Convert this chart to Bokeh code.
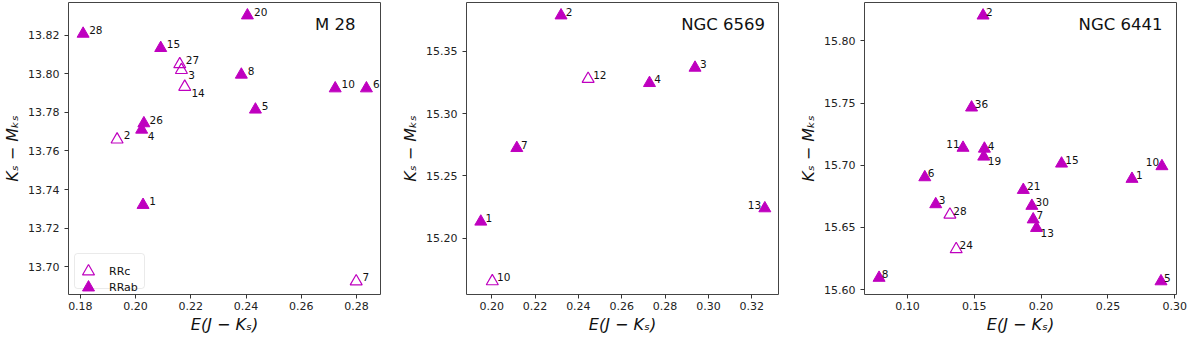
import math
from bokeh.plotting import figure
from bokeh.models import (Range1d, FixedTicker, PrintfTickFormatter, ColumnDataSource,
                          Label, Legend, LegendItem, BoxAnnotation)
from bokeh.layouts import row
from bokeh.core.properties import value
from bokeh.embed import file_html
from bokeh.resources import INLINE

# ---------------- data ----------------
# M 28
m28_id = ["28", "20", "15", "27", "3", "14", "8", "10", "6", "5", "26", "4", "2", "1", "7"]
m28_ejk = [0.1810, 0.2405, 0.2091, 0.2160, 0.2166, 0.2178, 0.2383, 0.2723, 0.2836, 0.2434,
           0.2030, 0.2022, 0.1933, 0.2027, 0.2799]
m28_mu = [13.8207, 13.8302, 13.8133, 13.8049, 13.8019, 13.7932, 13.7995, 13.7924, 13.7924,
          13.7814, 13.7743, 13.7710, 13.7659, 13.7320, 13.6924]
m28_type = ["RRab", "RRab", "RRab", "RRc", "RRc", "RRc", "RRab", "RRab", "RRab", "RRab",
            "RRab", "RRab", "RRc", "RRab", "RRc"]
m28_xticks = [0.18, 0.20, 0.22, 0.24, 0.26, 0.28]
m28_yticks = [13.70, 13.72, 13.74, 13.76, 13.78, 13.80, 13.82]

# NGC 6569
n6569_id = ["2", "12", "4", "3", "7", "1", "10", "13"]
n6569_ejk = [0.2320, 0.2445, 0.2728, 0.2938, 0.2116, 0.1950, 0.2003, 0.3260]
n6569_mu = [15.3788, 15.3278, 15.3245, 15.3368, 15.2723, 15.2132, 15.1653, 15.2239]
n6569_type = ["RRab", "RRc", "RRab", "RRab", "RRab", "RRab", "RRc", "RRab"]
n6569_xticks = [0.20, 0.22, 0.24, 0.26, 0.28, 0.30, 0.32]
n6569_yticks = [15.20, 15.25, 15.30, 15.35]

# NGC 6441
n6441_id = ["2", "36", "11", "4", "19", "6", "15", "1", "10", "21", "30", "7", "13", "3",
            "28", "24", "8", "5"]
n6441_ejk = [0.1566, 0.1480, 0.1416, 0.1576, 0.1571, 0.1130, 0.2153, 0.2680, 0.2904, 0.1867,
             0.1931, 0.1941, 0.1966, 0.1212, 0.1318, 0.1365, 0.0788, 0.2897]
n6441_mu = [15.8204, 15.7464, 15.7140, 15.7133, 15.7069, 15.6903, 15.7013, 15.6890, 15.6992,
            15.6801, 15.6673, 15.6564, 15.6495, 15.6686, 15.6602, 15.6324, 15.6094, 15.6066]
n6441_type = ["RRab"] * 14 + ["RRc", "RRc", "RRab", "RRab"]
n6441_xticks = [0.10, 0.15, 0.20, 0.25, 0.30]
n6441_yticks = [15.60, 15.65, 15.70, 15.75, 15.80]

x_title = "E(J − Kₛ)"
y_title = "Kₛ − Mₖₛ"

# ---------------- label placement (screen px, style only) ----------------
m28_ldx = [6, 6.7, 6, 6, 6.7, 6.7, 6.3, 6.3, 6.7, 6.3, 5.7, 6, 6.7, 6.3, 6.3]
m28_ldy = [-3.7, -3.3, -3.7, -4.3, 5.3, 6, -4, -4, -4, -4, -3, 6, -4.3, -3.7, -4]
m28_lal = ["left"] * 15
n6569_ldx = [4.7, 5, 4.7, 5, 4.3, 4.7, 4.7, -3.7]
n6569_ldy = [-3.3, -4, -3.7, -4, -3.3, -3.3, -4, -3.7]
n6569_lal = ["left"] * 7 + ["right"]
n6441_ldx = [3, 3.3, -3.3, 3.3, 4, 3, 3.7, 4, -2.7, 3.7, 3.7, 3.3, 4, 3, 3.3, 3.3, 2.7, 3]
n6441_ldy = [-3.3, -3.3, -3.7, -3, 4.3, -4, -4, -4, -4, -4, -4.3, -4, 5.3, -4.3, -4, -4.7, -3.7, -3.3]
n6441_lal = ["left", "left", "right", "left", "left", "left", "left", "left", "right",
             "left", "left", "left", "left", "left", "left", "left", "left", "left"]

MAG = "#bf00bf"
FONT = "DejaVu Sans"
FW, FH = 312, 292


def make_panel(title, title_dx, ids, ejk, mu, typ, ldx, ldy, lal, xlim, ylim, xticks, yticks,
               bl, br, legend=False):
    p = figure(frame_width=FW, frame_height=FH, x_range=Range1d(*xlim), y_range=Range1d(*ylim),
               output_backend="svg", toolbar_location=None, min_border_left=bl,
               min_border_right=br, min_border_top=2, min_border_bottom=43)
    p.grid.visible = False
    p.outline_line_color = "#444444"
    p.outline_line_width = 1
    p.background_fill_color = "white"
    p.border_fill_color = "white"
    for ax in (p.xaxis[0], p.yaxis[0]):
        ax.major_label_text_font = FONT
        ax.major_label_text_font_size = "11px"
        ax.major_label_text_color = "#222222"
        ax.axis_line_color = None
        ax.major_tick_out = 4
        ax.major_tick_in = 0
        ax.major_tick_line_color = "#333333"
        ax.minor_tick_line_color = None
        ax.formatter = PrintfTickFormatter(format="%.2f")
        ax.axis_label_text_font = FONT
        ax.axis_label_text_font_style = "italic"
        ax.axis_label_text_font_size = "16px"
        ax.axis_label_text_color = "#111111"
    p.xaxis[0].ticker = FixedTicker(ticks=xticks)
    p.yaxis[0].ticker = FixedTicker(ticks=yticks)
    p.xaxis[0].major_label_standoff = 3
    p.yaxis[0].major_label_standoff = 5
    p.xaxis[0].axis_label = x_title
    p.yaxis[0].axis_label = y_title
    p.xaxis[0].axis_label_standoff = 2
    p.yaxis[0].axis_label_standoff = 3

    def sub(kind):
        idx = [i for i, t in enumerate(typ) if t == kind]
        return ColumnDataSource(dict(x=[ejk[i] for i in idx], y=[mu[i] for i in idx]))

    r_c = p.scatter("x", "y", source=sub("RRc"), marker="triangle", size=12,
                    fill_color=None, line_color=MAG, line_width=1.2)
    r_ab = p.scatter("x", "y", source=sub("RRab"), marker="triangle", size=12,
                     fill_color=MAG, line_color=MAG, line_width=1)

    for al in ("left", "right"):
        idx = [i for i, a in enumerate(lal) if a == al]
        if not idx:
            continue
        src = ColumnDataSource(dict(x=[ejk[i] for i in idx], y=[mu[i] for i in idx],
                                    t=[ids[i] for i in idx], dx=[ldx[i] for i in idx],
                                    dy=[ldy[i] for i in idx]))
        p.text("x", "y", text="t", source=src, x_offset="dx", y_offset="dy",
               text_font=value(FONT), text_font_size="10.5px", text_color="#111111",
               text_align=al, text_baseline="middle")

    p.add_layout(Label(x=FW - title_dx, y=FH - 22, x_units="screen", y_units="screen",
                       text=title, text_font=FONT, text_font_size="16.5px",
                       text_color="#111111", text_align="right", text_baseline="middle"))

    if legend:
        box = BoxAnnotation(left=6, right=76, bottom=6, top=41, left_units="screen",
                            right_units="screen", bottom_units="screen", top_units="screen",
                            fill_color="white", fill_alpha=0.8, line_color="#bbbbbb",
                            line_width=1, border_radius=3)
        p.add_layout(box)
        common = dict(margin=0, padding=0, glyph_width=30, glyph_height=30, label_height=30,
                      label_standoff=6, label_text_font=FONT, label_text_font_size="11px",
                      label_text_color="#111111", border_line_color=None,
                      background_fill_alpha=0)
        lg1 = Legend(items=[LegendItem(label="RRc", renderers=[r_c])], location=(5, 8),
                     **common)
        lg2 = Legend(items=[LegendItem(label="RRab", renderers=[r_ab])], location=(5, -8),
                     **common)
        p.add_layout(lg1)
        p.add_layout(lg2)
    return p


p1 = make_panel("M 28", 25, m28_id, m28_ejk, m28_mu, m28_type, m28_ldx, m28_ldy, m28_lal,
                (0.1757, 0.2887), (13.6856, 13.8369), m28_xticks, m28_yticks, 60, 10,
                legend=True)
p2 = make_panel("NGC 6569", 13.4, n6569_id, n6569_ejk, n6569_mu, n6569_type, n6569_ldx,
                n6569_ldy, n6569_lal, (0.1884, 0.3323), (15.1547, 15.3892), n6569_xticks,
                n6569_yticks, 76, 10)
p3 = make_panel("NGC 6441", 14, n6441_id, n6441_ejk, n6441_mu, n6441_type, n6441_ldx,
                n6441_ldy, n6441_lal, (0.0679, 0.3013), (15.596, 15.8309), n6441_xticks,
                n6441_yticks, 76, 16)

layout = row(p1, p2, p3)
open("out.html", "w").write(file_html(layout, INLINE))
